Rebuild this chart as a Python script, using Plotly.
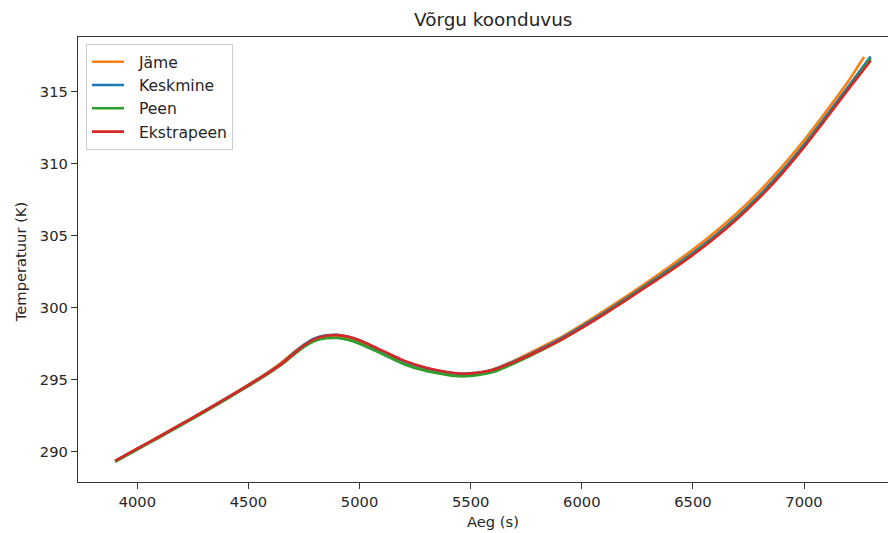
import plotly.graph_objects as go

# ---- data ----
time_s = [3900, 4000, 4100, 4200, 4300, 4400, 4500, 4600, 4650, 4700, 4750, 4800,
          4850, 4900, 4950, 5000, 5100, 5200, 5300, 5400, 5450, 5500, 5600, 5700,
          5800, 5900, 6000, 6100, 6200, 6300, 6400, 6500, 6600, 6700, 6800, 6900,
          7000, 7100, 7200, 7300]

time_jame = [3900, 4000, 4100, 4200, 4300, 4400, 4500, 4600, 4650, 4700, 4750, 4800,
             4850, 4900, 4950, 5000, 5100, 5200, 5300, 5400, 5450, 5500, 5600, 5700,
             5800, 5900, 6000, 6100, 6200, 6300, 6400, 6500, 6600, 6700, 6800, 6900,
             7000, 7100, 7200, 7270]

temp_jame = [289.37, 290.23, 291.08, 291.95, 292.83, 293.73, 294.66, 295.66, 296.22, 296.86,
             297.44, 297.84, 298.00, 298.02, 297.88, 297.62, 296.90, 296.18, 295.72, 295.45,
             295.38, 295.42, 295.72, 296.36, 297.12, 297.90, 298.82, 299.78, 300.79, 301.84,
             302.92, 304.04, 305.26, 306.60, 308.10, 309.78, 311.63, 313.65, 315.75, 317.42]

temp_keskmine = [289.35, 290.20, 291.05, 291.92, 292.80, 293.70, 294.62, 295.60, 296.15, 296.80,
                 297.42, 297.88, 298.08, 298.12, 297.98, 297.72, 297.00, 296.28, 295.80, 295.50,
                 295.42, 295.44, 295.70, 296.30, 297.02, 297.80, 298.70, 299.65, 300.65, 301.68,
                 302.72, 303.82, 305.02, 306.34, 307.82, 309.48, 311.33, 313.33, 315.38, 317.45]

temp_peen = [289.30, 290.15, 291.00, 291.86, 292.74, 293.64, 294.56, 295.53, 296.06, 296.68,
             297.28, 297.70, 297.88, 297.90, 297.76, 297.50, 296.80, 296.08, 295.60, 295.32,
             295.24, 295.27, 295.54, 296.16, 296.90, 297.70, 298.60, 299.56, 300.56, 301.59,
             302.62, 303.72, 304.91, 306.23, 307.70, 309.35, 311.20, 313.19, 315.23, 317.30]

temp_ekstrapeen = [289.36, 290.21, 291.06, 291.93, 292.81, 293.71, 294.62, 295.58, 296.12, 296.76,
                   297.38, 297.84, 298.05, 298.10, 297.98, 297.74, 297.04, 296.33, 295.84, 295.52,
                   295.43, 295.44, 295.68, 296.26, 296.96, 297.72, 298.60, 299.54, 300.53, 301.55,
                   302.57, 303.67, 304.86, 306.18, 307.65, 309.30, 311.15, 313.14, 315.18, 317.15]

series_names = ["Jäme", "Keskmine", "Peen", "Ekstrapeen"]
series_colors = ["#ff7f0e", "#1f77b4", "#2ca02c", "#d62728"]

x_ticks = [4000, 4500, 5000, 5500, 6000, 6500, 7000]
y_ticks = [290, 295, 300, 305, 310, 315]

FONT = "DejaVu Sans"
TXT = "#262626"

fig = go.Figure()
for name, color, xs, ys in zip(series_names, series_colors,
                               [time_jame, time_s, time_s, time_s],
                               [temp_jame, temp_keskmine, temp_peen, temp_ekstrapeen]):
    fig.add_trace(go.Scatter(x=xs, y=ys, mode="lines", name="  " + name,
                             line=dict(color=color, width=2.6, shape="spline", smoothing=0.6)))

# the page body has an 8px margin, so the figure starts at (8, 8)
fig.update_layout(
    width=888, height=525,
    margin=dict(l=70, r=0, t=29, b=51),
    paper_bgcolor="white", plot_bgcolor="white",
    font=dict(family=FONT, size=14.7, color=TXT),
    showlegend=True,
    legend=dict(x=0.0098, y=0.984, xanchor="left", yanchor="top", itemwidth=32,
                bgcolor="rgba(255,255,255,0.8)", bordercolor="#cccccc", borderwidth=1,
                font=dict(family=FONT, size=15.6, color=TXT)),
    annotations=[
        dict(text="Võrgu koonduvus", xref="paper", yref="paper", x=0.5073, y=1.0,
             yshift=18, showarrow=False, xanchor="center", yanchor="middle",
             font=dict(family=FONT, size=18.4, color=TXT)),
        dict(text="Aeg (s)", xref="paper", yref="paper", x=0.5073, y=-0.0884,
             showarrow=False, xanchor="center", yanchor="middle",
             font=dict(family=FONT, size=14.7, color=TXT)),
        dict(text="Temperatuur (K)", xref="paper", yref="paper", x=-0.0709, y=0.494,
             textangle=-90, showarrow=False, xanchor="center", yanchor="middle",
             font=dict(family=FONT, size=14.7, color=TXT)),
    ],
)

fig.update_xaxes(range=[3733, 7414], tickvals=x_ticks, ticks="outside", ticklen=6,
                 tickwidth=1, tickcolor="#333333", showline=True, linecolor="#333333",
                 linewidth=1.3, mirror=True, showgrid=False, zeroline=False,
                 tickfont=dict(family=FONT, size=14.7, color=TXT))
fig.update_yaxes(range=[287.9, 318.8], tickvals=y_ticks, ticks="outside", ticklen=6,
                 tickwidth=1, tickcolor="#333333", showline=True, linecolor="#333333",
                 linewidth=1.3, mirror=False, showgrid=False, zeroline=False,
                 tickfont=dict(family=FONT, size=14.7, color=TXT))

fig.write_html("out.html")
